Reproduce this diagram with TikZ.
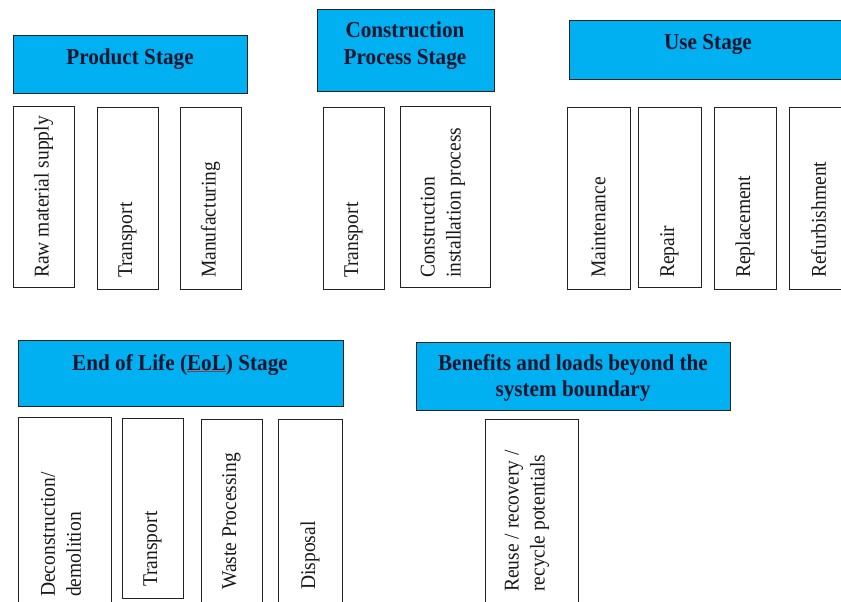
\documentclass[tikz,border=0pt]{standalone}
\usepackage{fontspec}
\setmainfont[FakeStretch=0.93]{Liberation Serif}
\definecolor{hdrblue}{RGB}{0,176,240}
\definecolor{hdrtext}{RGB}{12,22,48}
\definecolor{edge}{RGB}{35,35,35}
\definecolor{bodytext}{RGB}{25,25,25}
\definecolor{spellred}{RGB}{180,45,45}
\begin{document}
\begin{tikzpicture}[x=1pt,y=-1pt,
  hdr/.style={draw=edge, line width=1.4pt, fill=hdrblue, anchor=north west, inner sep=0pt},
  box/.style={draw=edge, line width=1.4pt, fill=white, anchor=north west, inner sep=0pt},
  htxt/.style={inner sep=0pt, align=center, text=hdrtext, font=\fontsize{22.8}{26.5}\selectfont\bfseries},
  vt/.style={rotate=90, anchor=west, inner sep=0pt, align=left, text=bodytext, font=\fontsize{21}{26}\selectfont}]
\useasboundingbox (0,0) rectangle (841,602);
\clip (0,0) rectangle (841,602);
% ---- headers
\node[hdr, minimum width=234pt, minimum height=58pt] (ps) at (13,35) {};
\node[htxt, anchor=base] (pst) at (130,65) {Product Stage};
\node[hdr, minimum width=177pt, minimum height=82pt] (cps) at (317,9) {};
\node[htxt] (cpst) at (405,45.5) {Construction\\Process Stage};
\node[hdr, minimum width=280pt, minimum height=59pt] (us) at (569,20) {};
\node[htxt, anchor=base] (ust) at (708,50) {Use Stage};
\node[hdr, minimum width=325pt, minimum height=66pt] (eol) at (18,340) {};
\node[htxt, anchor=base] (eolt) at (180,370) {End of Life ({\color{spellred}\underline{{\color{hdrtext}EoL}}}) Stage};
\node[hdr, minimum width=314pt, minimum height=68pt] (ben) at (416,342) {};
\node[htxt] (bent) at (573,378) {Benefits and loads beyond the\\system boundary};
% ---- product stage boxes
\node[box, minimum width=61pt, minimum height=181pt] (r1) at (13,106) {};
\node[vt] (r1t) at (43.5,278) {Raw material supply};
\node[box, minimum width=61pt, minimum height=182pt] (t1) at (97,107) {};
\node[vt] (t1t) at (127.5,278) {Transport};
\node[box, minimum width=61pt, minimum height=182pt] (m1) at (180,107) {};
\node[vt] (m1t) at (210.5,278) {Manufacturing};
% ---- construction boxes
\node[box, minimum width=61pt, minimum height=182pt] (t2) at (323,107) {};
\node[vt] (t2t) at (353.5,278) {Transport};
\node[box, minimum width=90pt, minimum height=181pt] (ci) at (400,106) {};
\node[vt] (cit) at (443,278) {Construction\\installation process};
% ---- use stage boxes
\node[box, minimum width=63pt, minimum height=182pt] (mt) at (567,107) {};
\node[vt] (mtt) at (598.5,278) {Maintenance};
\node[box, minimum width=63pt, minimum height=180pt] (rp) at (638,107) {};
\node[vt] (rpt) at (669.5,278) {Repair};
\node[box, minimum width=62pt, minimum height=182pt] (rl) at (714,107) {};
\node[vt] (rlt) at (745,278) {Replacement};
\node[box, minimum width=60pt, minimum height=182pt] (rf) at (789,107) {};
\node[vt] (rft) at (818.5,278) {Refurbishment};
% ---- end of life boxes
\node[box, minimum width=93pt, minimum height=200pt] (dd) at (18,417) {};
\node[vt] (ddt) at (61,597) {Deconstruction/\\demolition};
\node[box, minimum width=61pt, minimum height=180pt] (t3) at (122,418) {};
\node[vt] (t3t) at (152.5,587) {Transport};
\node[box, minimum width=61pt, minimum height=200pt] (wp) at (201,419) {};
\node[vt] (wpt) at (231.5,590) {Waste Processing};
\node[box, minimum width=64pt, minimum height=200pt] (dp) at (278,419) {};
\node[vt] (dpt) at (310,590) {Disposal};
% ---- beyond boundary
\node[box, minimum width=93pt, minimum height=200pt] (ru) at (485,419) {};
\node[vt] (rut) at (527,592) {Reuse / recovery /\\recycle potentials};
\end{tikzpicture}
\end{document}
